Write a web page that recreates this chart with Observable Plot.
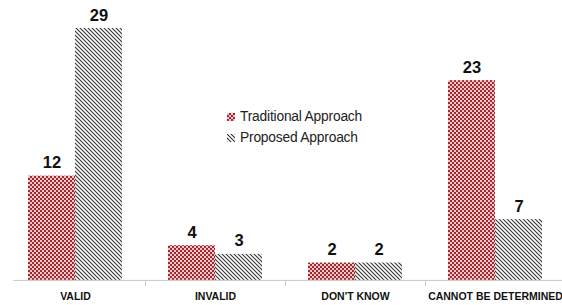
<!DOCTYPE html>
<html><head><meta charset="utf-8">
<script src="https://cdn.jsdelivr.net/npm/d3@7"></script>
<script src="https://cdn.jsdelivr.net/npm/@observablehq/plot@0.6"></script>
<style>
body{margin:0;background:#fff;font-family:"Liberation Sans",Arial,sans-serif;}
#wrap{position:relative;width:562px;height:305px;}
#legend{position:absolute;left:227px;top:106px;font-size:13.8px;color:#222;line-height:21px;letter-spacing:-0.2px;}
#legend div{display:flex;align-items:center;}
#legend svg{margin-right:5px;}
</style></head>
<body><div id="wrap"><div id="chart"></div>
<div id="legend">
<div><svg width="8" height="8"><rect width="8" height="8" fill="url(#checkL)"/></svg>Traditional Approach</div>
<div><svg width="8" height="8"><rect width="8" height="8" fill="url(#stripeL)"/></svg>Proposed Approach</div>
</div></div>
<script>
const categories = ["VALID", "INVALID", "DON'T KNOW", "CANNOT BE DETERMINED"];
const series = ["Traditional Approach", "Proposed Approach"];
const traditional = [12, 4, 2, 23];
const proposed = [29, 3, 2, 7];

const data = [];
categories.forEach((c, i) => {
  data.push({category: c, series: series[0], value: traditional[i]});
  data.push({category: c, series: series[1], value: proposed[i]});
});
const trad = data.filter(d => d.series === series[0]);
const prop = data.filter(d => d.series === series[1]);

const chart = Plot.plot({
  width: 562, height: 305,
  marginLeft: 13, marginRight: 0, marginTop: 28, marginBottom: 19,
  style: {fontFamily: "Liberation Sans, Arial, sans-serif", background: "#fff"},
  x: {domain: categories, range: [5, 565], padding: 0, axis: null},
  y: {domain: [-0.7, 29], axis: null},
  marks: [
    Plot.barY(trad, {x: "category", y: "value", fill: "url(#check)", insetLeft: 23, insetRight: 70}),
    Plot.barY(prop, {x: "category", y: "value", fill: "url(#stripe)", insetLeft: 70, insetRight: 23}),
    Plot.ruleY([0], {stroke: "#c8c8c8", strokeWidth: 1}),
    Plot.ruleX(categories.slice(1), {x: d => d, dx: -70, y1: 0, y2: -0.7, stroke: "#c8c8c8"}),
    Plot.text(trad, {x: "category", y: "value", text: d => String(d.value), dx: -23.5, dy: -8, lineAnchor: "bottom", fontSize: 16.5, fontWeight: "bold", fill: "#111"}),
    Plot.text(prop, {x: "category", y: "value", text: d => String(d.value), dx: 23.5, dy: -8, lineAnchor: "bottom", fontSize: 16.5, fontWeight: "bold", fill: "#111"}),
    Plot.text(categories, {x: d => d, frameAnchor: "bottom", dy: 13, fontSize: 10.5, fontWeight: "bold", fill: "#111"})
  ]
});

const ns = "http://www.w3.org/2000/svg";
function addDefs(svg, suffix) {
  const defs = document.createElementNS(ns, "defs");
  defs.innerHTML = `
  <pattern id="check${suffix}" patternUnits="userSpaceOnUse" width="4" height="4">
    <rect width="4" height="4" fill="#a3282f"/>
    <rect x="0" y="0" width="2" height="2" fill="#ecc8c8"/>
    <rect x="2" y="2" width="2" height="2" fill="#ecc8c8"/>
  </pattern>
  <pattern id="stripe${suffix}" patternUnits="userSpaceOnUse" width="4" height="4">
    <rect width="4" height="4" fill="#fff"/>
    <path d="M-1,-1L5,5M-1,3L1,5M3,-1L5,1" stroke="#333" stroke-width="1.1"/>
  </pattern>`;
  svg.insertBefore(defs, svg.firstChild);
}
addDefs(chart, "");
document.getElementById("chart").appendChild(chart);
document.querySelectorAll("#legend svg").forEach(s => addDefs(s, "L"));
</script></body></html>
